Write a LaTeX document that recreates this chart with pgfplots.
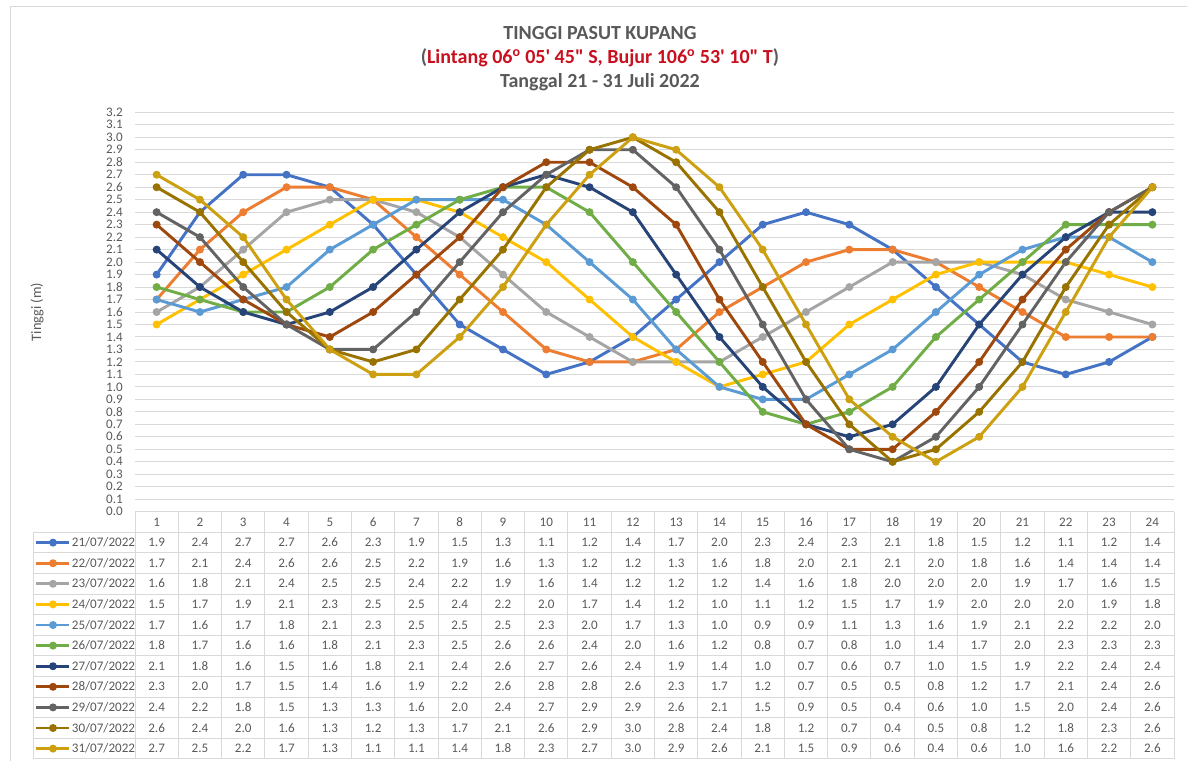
\documentclass[border=0pt]{standalone}
\usepackage{pgfplots}
\pgfplotsset{compat=1.18}
\usepackage{pgfplotstable}
\usepackage{fontspec}
\setmainfont{Carlito}

\definecolor{c21}{HTML}{4472C4}
\definecolor{c22}{HTML}{ED7D31}
\definecolor{c23}{HTML}{A5A5A5}
\definecolor{c24}{HTML}{FFC000}
\definecolor{c25}{HTML}{5B9BD5}
\definecolor{c26}{HTML}{70AD47}
\definecolor{c27}{HTML}{264478}
\definecolor{c28}{HTML}{9E480E}
\definecolor{c29}{HTML}{636363}
\definecolor{c30}{HTML}{997300}
\definecolor{c31}{RGB}{204,160,16}
\definecolor{txt}{HTML}{595959}
\definecolor{gridc}{HTML}{D9D9D9}
\definecolor{titlered}{RGB}{200,16,30}

\newcommand\smallfont{\fontsize{9.8}{11}\selectfont}

% Hourly tide height (m), one column per day
\pgfplotstableread{
h  d21 d22 d23 d24 d25 d26 d27 d28 d29 d30 d31
1  1.9 1.7 1.6 1.5 1.7 1.8 2.1 2.3 2.4 2.6 2.7
2  2.4 2.1 1.8 1.7 1.6 1.7 1.8 2.0 2.2 2.4 2.5
3  2.7 2.4 2.1 1.9 1.7 1.6 1.6 1.7 1.8 2.0 2.2
4  2.7 2.6 2.4 2.1 1.8 1.6 1.5 1.5 1.5 1.6 1.7
5  2.6 2.6 2.5 2.3 2.1 1.8 1.6 1.4 1.3 1.3 1.3
6  2.3 2.5 2.5 2.5 2.3 2.1 1.8 1.6 1.3 1.2 1.1
7  1.9 2.2 2.4 2.5 2.5 2.3 2.1 1.9 1.6 1.3 1.1
8  1.5 1.9 2.2 2.4 2.5 2.5 2.4 2.2 2.0 1.7 1.4
9  1.3 1.6 1.9 2.2 2.5 2.6 2.6 2.6 2.4 2.1 1.8
10 1.1 1.3 1.6 2.0 2.3 2.6 2.7 2.8 2.7 2.6 2.3
11 1.2 1.2 1.4 1.7 2.0 2.4 2.6 2.8 2.9 2.9 2.7
12 1.4 1.2 1.2 1.4 1.7 2.0 2.4 2.6 2.9 3.0 3.0
13 1.7 1.3 1.2 1.2 1.3 1.6 1.9 2.3 2.6 2.8 2.9
14 2.0 1.6 1.2 1.0 1.0 1.2 1.4 1.7 2.1 2.4 2.6
15 2.3 1.8 1.4 1.1 0.9 0.8 1.0 1.2 1.5 1.8 2.1
16 2.4 2.0 1.6 1.2 0.9 0.7 0.7 0.7 0.9 1.2 1.5
17 2.3 2.1 1.8 1.5 1.1 0.8 0.6 0.5 0.5 0.7 0.9
18 2.1 2.1 2.0 1.7 1.3 1.0 0.7 0.5 0.4 0.4 0.6
19 1.8 2.0 2.0 1.9 1.6 1.4 1.0 0.8 0.6 0.5 0.4
20 1.5 1.8 2.0 2.0 1.9 1.7 1.5 1.2 1.0 0.8 0.6
21 1.2 1.6 1.9 2.0 2.1 2.0 1.9 1.7 1.5 1.2 1.0
22 1.1 1.4 1.7 2.0 2.2 2.3 2.2 2.1 2.0 1.8 1.6
23 1.2 1.4 1.6 1.9 2.2 2.3 2.4 2.4 2.4 2.3 2.2
24 1.4 1.4 1.5 1.8 2.0 2.3 2.4 2.6 2.6 2.6 2.6
}\tide

\begin{document}
\begin{tikzpicture}
\path[use as bounding box] (0,0) rectangle (890.25pt,-570pt);
% chart area border
\draw[gridc, line width=0.75pt] (7.5pt,-572pt) -- (7.5pt,-5pt) -- (892pt,-5pt);

\begin{axis}[
  at={(101.25pt,-383.78pt)}, anchor=south west,
  scale only axis, width=779.25pt, height=299.55pt,
  xmin=0.5, xmax=24.5, ymin=0, ymax=3.2,
  axis line style={draw=none}, major tick length=0pt,
  ymajorgrids, major grid style={gridc, line width=0.75pt},
  xtick={1,...,24},
  ytick={0,0.1,0.2,0.3,0.4,0.5,0.6,0.7,0.8,0.9,1.0,1.1,1.2,1.3,1.4,1.5,1.6,
         1.7,1.8,1.9,2.0,2.1,2.2,2.3,2.4,2.5,2.6,2.7,2.8,2.9,3.0,3.1,3.2},
  /pgf/number format/assume math mode=true,
  yticklabel={\pgfmathprintnumber[fixed,fixed zerofill,precision=1]{\tick}},
  yticklabel style={font=\smallfont, text=txt, anchor=east, inner sep=0pt, xshift=-9pt,
    text height=6.2pt, text depth=0pt},
  xticklabel style={font=\smallfont, text=txt, anchor=center, inner sep=0pt, yshift=-7.73pt,
    text height=6.2pt, text depth=0pt},
  ylabel={Tinggi (m)},
  every axis y label/.style={at={(axis description cs:-0.0943,0.5)}, rotate=90, anchor=center,
    font=\fontsize{10.8}{12}\selectfont, text=txt},
  title={TINGGI PASUT KUPANG\\
    (\textcolor{titlered}{Lintang 06\textsuperscript{o} 05\textquotesingle{} 45\textquotedbl{} S, Bujur 106\textsuperscript{o} 53\textquotesingle{} 10\textquotedbl{} T})\\
    Tanggal 21 - 31 Juli 2022},
  title style={at={(axis description cs:0.4475,1.195)}, anchor=north, inner sep=0pt,
    align=center, font=\fontsize{15}{18}\selectfont\bfseries, text=txt},
  every axis plot/.append style={line width=2.2pt, line join=round, mark=*, mark size=2.6pt,
    mark options={solid, line width=0.75pt}},
  legend cell align=left,
  legend style={at={(-0.09625,-0.05158)}, anchor=north west, draw=none, fill=none,
    inner sep=0pt, outer sep=0pt, row sep=0pt, column sep=0.75pt,
    font=\smallfont, text=txt,
    nodes={inner sep=0pt, text height=10.8pt, text depth=4.65pt}},
  legend image code/.code={\draw[#1, mark repeat=2, mark phase=2]
    plot coordinates {(0pt,0pt) (12.4pt,0pt) (24.75pt,0pt)};},
]
\addplot[color=c21] table[x=h, y=d21]{\tide};
\addplot[color=c22] table[x=h, y=d22]{\tide};
\addplot[color=c23] table[x=h, y=d23]{\tide};
\addplot[color=c24] table[x=h, y=d24]{\tide};
\addplot[color=c25] table[x=h, y=d25]{\tide};
\addplot[color=c26] table[x=h, y=d26]{\tide};
\addplot[color=c27] table[x=h, y=d27]{\tide};
\addplot[color=c28] table[x=h, y=d28]{\tide};
\addplot[color=c29] table[x=h, y=d29]{\tide};
\addplot[color=c30] table[x=h, y=d30]{\tide};
\addplot[color=c31] table[x=h, y=d31]{\tide};
\legend{21/07/2022, 22/07/2022, 23/07/2022, 24/07/2022, 25/07/2022, 26/07/2022,
        27/07/2022, 28/07/2022, 29/07/2022, 30/07/2022, 31/07/2022}
\end{axis}

% data table under the chart
\begin{axis}[
  at={(101.25pt,-383.78pt)}, anchor=north west,
  scale only axis, width=779.25pt, height=185.4pt,
  xmin=0.5, xmax=24.5, ymin=0, ymax=12, y dir=reverse,
  axis line style={draw=none}, major tick length=0pt,
  xtick={0.5,1.5,...,24.5}, ytick={0,1,...,12},
  xticklabels={}, yticklabels={},
  xmajorgrids, ymajorgrids, major grid style={gridc, line width=0.75pt},
  clip=false,
  tabrow/.style={draw=none, mark=none, point meta=explicit,
    nodes near coords={\pgfmathprintnumber[fixed,fixed zerofill,precision=1,assume math mode=true]{\pgfplotspointmeta}},
    nodes near coords align=center,
    every node near coord/.append style={font=\smallfont, text=txt, inner sep=0pt,
      text height=6.2pt, text depth=0pt}},
]
\pgfplotsinvokeforeach{1,...,12}{
  \draw[gridc, line width=0.75pt] (axis cs:-1.849,#1) -- (axis cs:0.5,#1);
}
\draw[gridc, line width=0.75pt] (axis cs:-1.849,1) -- (axis cs:-1.849,12);
\addplot[tabrow] table[x=h, y expr=1.5,  meta=d21]{\tide};
\addplot[tabrow] table[x=h, y expr=2.5,  meta=d22]{\tide};
\addplot[tabrow] table[x=h, y expr=3.5,  meta=d23]{\tide};
\addplot[tabrow] table[x=h, y expr=4.5,  meta=d24]{\tide};
\addplot[tabrow] table[x=h, y expr=5.5,  meta=d25]{\tide};
\addplot[tabrow] table[x=h, y expr=6.5,  meta=d26]{\tide};
\addplot[tabrow] table[x=h, y expr=7.5,  meta=d27]{\tide};
\addplot[tabrow] table[x=h, y expr=8.5,  meta=d28]{\tide};
\addplot[tabrow] table[x=h, y expr=9.5,  meta=d29]{\tide};
\addplot[tabrow] table[x=h, y expr=10.5, meta=d30]{\tide};
\addplot[tabrow] table[x=h, y expr=11.5, meta=d31]{\tide};
\end{axis}
\end{tikzpicture}
\end{document}
